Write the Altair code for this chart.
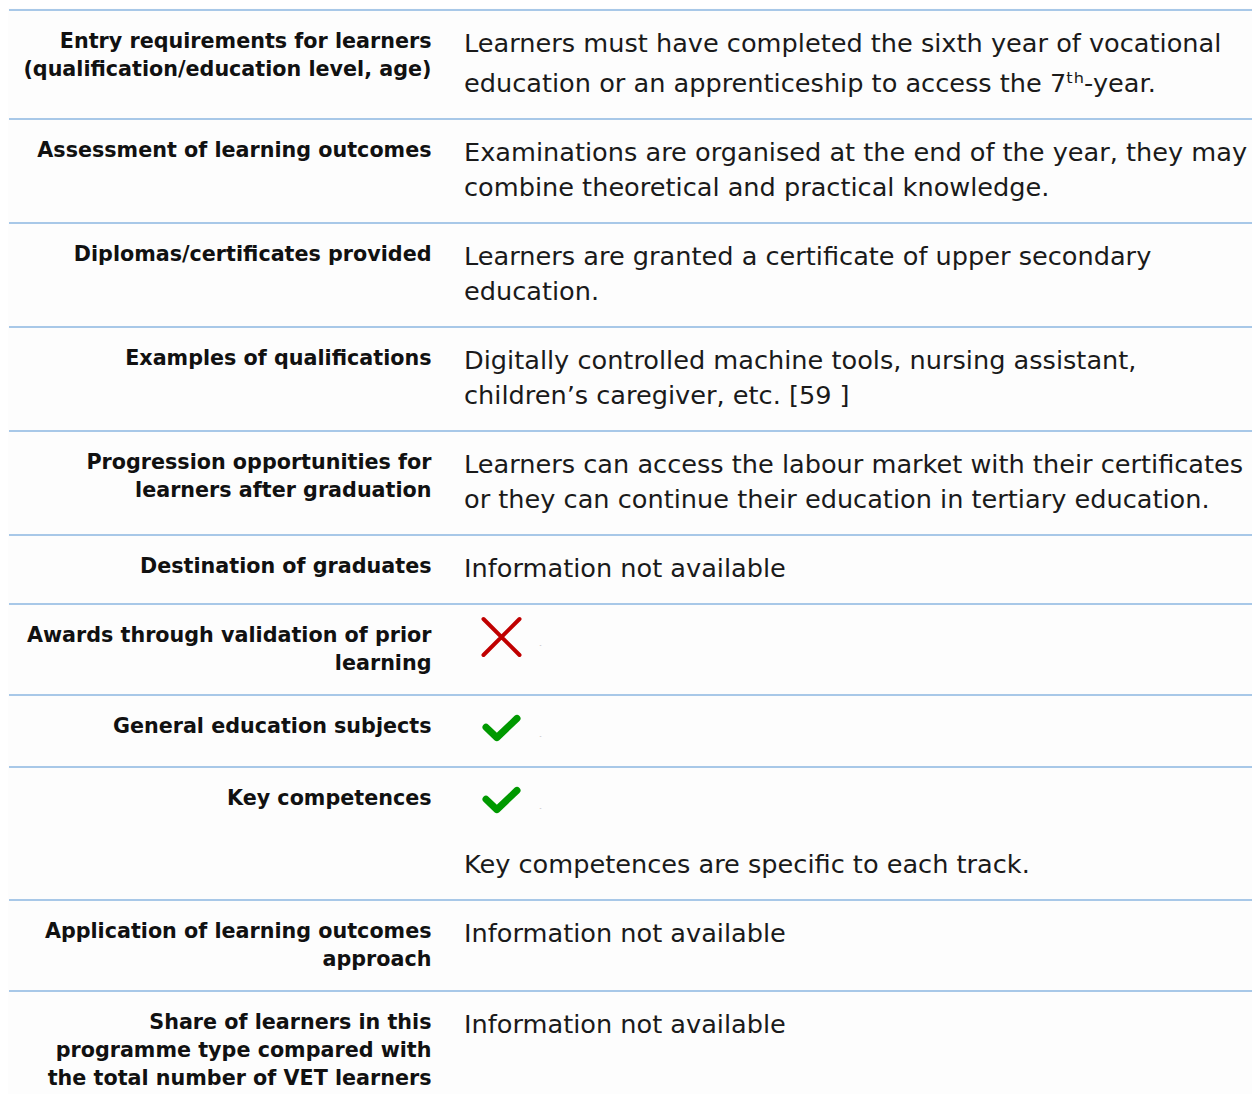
import altair as alt
import pandas as pd

# ---- content ----
labels = [
    ["Entry requirements for learners", "(qualification/education level, age)"],
    ["Assessment of learning outcomes"],
    ["Diplomas/certificates provided"],
    ["Examples of qualifications"],
    ["Progression opportunities for", "learners after graduation"],
    ["Destination of graduates"],
    ["Awards through validation of prior", "learning"],
    ["General education subjects"],
    ["Key competences"],
    ["Application of learning outcomes", "approach"],
    ["Share of learners in this", "programme type compared with", "the total number of VET learners"],
]
contents = [
    [("text", "Learners must have completed the sixth year of vocational"),
     ("text", "education or an apprenticeship to access the 7\u1d57\u02b0-year.")],
    [("text", "Examinations are organised at the end of the year, they may"),
     ("text", "combine theoretical and practical knowledge.")],
    [("text", "Learners are granted a certificate of upper secondary"),
     ("text", "education.")],
    [("text", "Digitally controlled machine tools, nursing assistant,"),
     ("text", "children\u2019s caregiver, etc. [59 ]")],
    [("text", "Learners can access the labour market with their certificates"),
     ("text", "or they can continue their education in tertiary education.")],
    [("text", "Information not available")],
    [("cross", "")],
    [("check", "")],
    [("check", ""), ("text", "Key competences are specific to each track.")],
    [("text", "Information not available")],
    [("text", "Information not available")],
]

W, H = 1244, 1086
LABEL_X, TEXT_X, ICON_X = 421.5, 454, 483
LBL_LH, TXT_LH, ICON_H, GAP, PAD = 28, 35, 38, 26, 34
SUP_EXTRA = 5

label_rows, text_rows, icon_rows, dash_rows, sep_rows = [], [], [], [], []
top = 2
for lab, cont in zip(labels, contents):
    sep_rows.append({"y": top})
    for i, s in enumerate(lab):
        label_rows.append({"x": LABEL_X, "y": top + 32 + LBL_LH * i, "t": s})
    yy = top + 34
    h = 0
    prev = None
    extra = 0
    for kind, s in cont:
        if kind == "text":
            if prev == "text":
                yy += TXT_LH
                h += TXT_LH
            elif prev is not None:
                yy += 64
                h += GAP + TXT_LH
            else:
                h += TXT_LH
            if "\u1d57" in s:
                yy += SUP_EXTRA
                extra += SUP_EXTRA
            text_rows.append({"x": TEXT_X, "y": yy, "t": s})
        else:
            h += ICON_H
            icon_rows.append({"x": ICON_X + 8.5, "y": yy - 1, "kind": kind})
            dash_rows.append({"x": ICON_X + 47.5, "y": yy + 7})
        prev = kind
    rh = max(LBL_LH * len(lab) + 35, h + PAD + extra)
    top += rh
sep_rows.append({"y": top})

xs = alt.Scale(domain=[0, W], range=[0, W], nice=False, zero=False)
ys = alt.Scale(domain=[0, H], range=[0, H], nice=False, zero=False)

seps = alt.Chart(pd.DataFrame(sep_rows)).mark_rule(color="#a8c8e8", strokeWidth=2).encode(
    y=alt.Y("y:Q", scale=ys, axis=None),
    x=alt.value(-1), x2=alt.value(W + 8),
)

lbl = alt.Chart(pd.DataFrame(label_rows)).mark_text(
    align="right", baseline="middle", font="DejaVu Sans", fontWeight="bold",
    fontSize=20.7, color="#111111",
).encode(x=alt.X("x:Q", scale=xs, axis=None), y=alt.Y("y:Q", scale=ys, axis=None), text="t:N")

txt = alt.Chart(pd.DataFrame(text_rows)).mark_text(
    align="left", baseline="middle", font="DejaVu Sans",
    fontSize=25.6, color="#1a1a1a",
).encode(x=alt.X("x:Q", scale=xs, axis=None), y=alt.Y("y:Q", scale=ys, axis=None), text="t:N")

icons_df = pd.DataFrame(icon_rows)
cross = alt.Chart(icons_df[icons_df.kind == "cross"]).mark_point(
    shape="M-1,-1L1,1M-1,1L1,-1", filled=False, size=1296, color="#c00000",
    strokeWidth=4, strokeCap="round", opacity=1,
).encode(x=alt.X("x:Q", scale=xs, axis=None), y=alt.Y("y:Q", scale=ys, axis=None))

check = alt.Chart(icons_df[icons_df.kind == "check"]).mark_point(
    shape="M-1,-0.05L-0.3,0.62L1,-0.62", filled=False, size=960, color="#009900",
    strokeWidth=7, strokeCap="round", strokeJoin="round", opacity=1,
).encode(x=alt.X("x:Q", scale=xs, axis=None), y=alt.Y("y:Q", scale=ys, axis=None))

dash = alt.Chart(pd.DataFrame(dash_rows)).mark_text(
    text="-", fontSize=6, color="#999999", align="center", baseline="middle",
).encode(x=alt.X("x:Q", scale=xs, axis=None), y=alt.Y("y:Q", scale=ys, axis=None))

chart = alt.layer(seps, lbl, txt, cross, check, dash).properties(
    width=W, height=H, padding=0,
    autosize=alt.AutoSizeParams(type="fit", contains="padding"),
    background="#fdfdfd",
).configure_view(stroke=None)

chart.save("out.html", embed_options={"renderer": "svg", "actions": False})
